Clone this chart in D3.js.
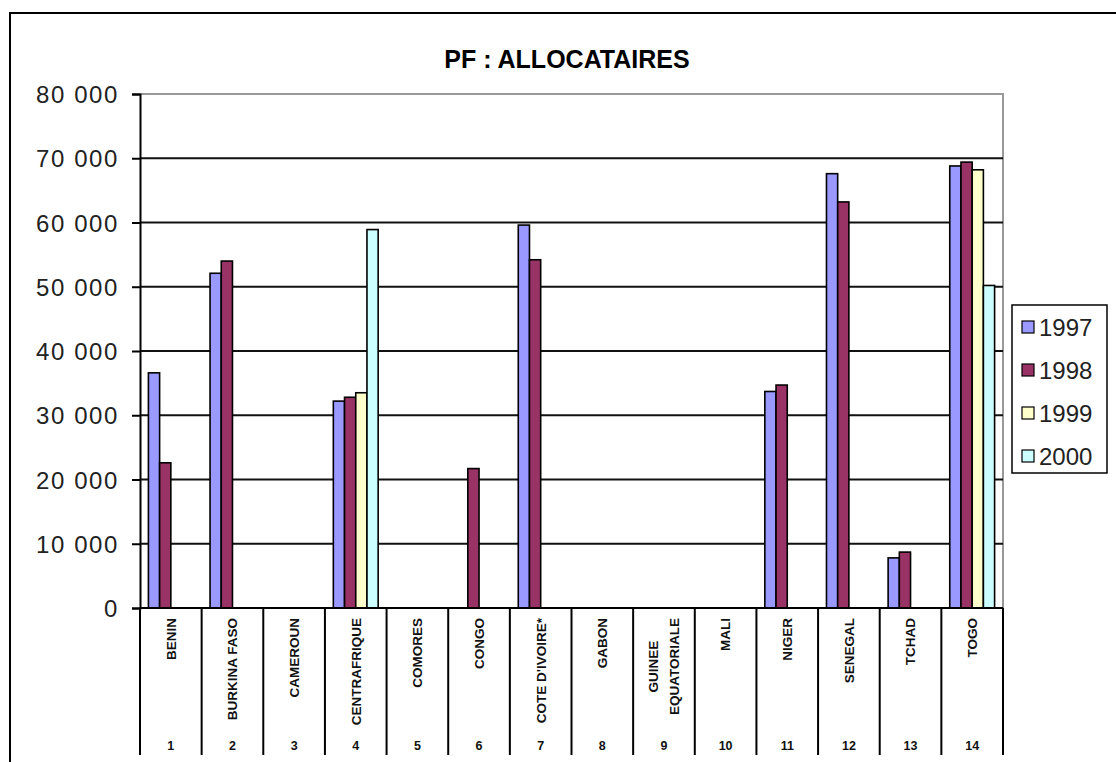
<!DOCTYPE html>
<html>
  <head>
    <meta charset="utf-8" />
    <script src="https://d3js.org/d3.v7.min.js"></script>
    <style>
      body { margin: 0; background: #fff; }
      text { font-family: "Liberation Sans", Arial, sans-serif; }
    </style>
  </head>
  <body>
    <svg id="chart" width="1116" height="762"></svg>
    <script>
      // data
      const countries = ["BENIN", "BURKINA FASO", "CAMEROUN", "CENTRAFRIQUE", "COMORES", "CONGO",
        "COTE D'IVOIRE*", "GABON", "GUINEE\nEQUATORIALE", "MALI", "NIGER", "SENEGAL", "TCHAD", "TOGO"];
      const numbers = ["1", "2", "3", "4", "5", "6", "7", "8", "9", "10", "11", "12", "13", "14"];
      const years = ["1997", "1998", "1999", "2000"];
      const v1997 = [36600, 52100, null, 32200, null, null, 59600, null, null, null, 33700, 67600, 7800, 68800];
      const v1998 = [22600, 54000, null, 32800, null, 21700, 54200, null, null, null, 34700, 63200, 8700, 69400];
      const v1999 = [null, null, null, 33500, null, null, null, null, null, null, null, null, null, 68200];
      const v2000 = [null, null, null, 58900, null, null, null, null, null, null, null, null, null, 50200];
      const colors = ["#9999ff", "#993366", "#ffffcc", "#ccffff"];

      const series = [v1997, v1998, v1999, v2000];

      const svg = d3.select("#chart");

      // outer chart frame (runs off the right and bottom of the picture)
      svg.append("rect")
        .attr("x", 10).attr("y", 13)
        .attr("width", 1300).attr("height", 900)
        .attr("fill", "#fff")
        .attr("stroke", "#000")
        .attr("stroke-width", 2);

      const pLeft = 140, pRight = 1003, pTop = 94, pBottom = 608;

      const x = d3.scaleBand().domain(d3.range(countries.length)).range([pLeft, pRight]);
      // excel style gap width 150%
      const xs = d3.scaleBand().domain(d3.range(years.length))
        .range([0, x.bandwidth()]).paddingInner(0).paddingOuter(0.75);
      const y = d3.scaleLinear().domain([0, 80000]).range([pBottom, pTop]);

      const fr = d3.formatLocale({ decimal: ",", thousands: " ", grouping: [3], currency: ["", ""] });
      const fmt = fr.format(",d");

      // title
      svg.append("text")
        .attr("x", 567).attr("y", 68)
        .attr("text-anchor", "middle")
        .attr("font-size", 25).attr("font-weight", "bold")
        .text("PF : ALLOCATAIRES");

      // plot border (gray)
      svg.append("path")
        .attr("d", `M${pLeft},${pTop}H${pRight}V${pBottom}`)
        .attr("fill", "none").attr("stroke", "#999").attr("stroke-width", 2);

      // gridlines
      svg.append("g")
        .selectAll("line")
        .data(y.ticks(8).filter(d => d > 0 && d < 80000))
        .join("line")
        .attr("x1", pLeft).attr("x2", pRight)
        .attr("y1", d => y(d)).attr("y2", d => y(d))
        .attr("stroke", "#111").attr("stroke-width", 2);

      // y axis
      const yAxis = svg.append("g")
        .attr("transform", `translate(${pLeft},0)`)
        .call(d3.axisLeft(y).ticks(8).tickFormat(fmt).tickSize(8).tickPadding(13));
      yAxis.select(".domain").attr("stroke", "#000").attr("stroke-width", 2);
      yAxis.selectAll(".tick line").attr("stroke", "#000").attr("stroke-width", 2);
      yAxis.selectAll(".tick text")
        .attr("font-size", 24)
        .attr("letter-spacing", 1.6)
        .attr("fill", "#222")
        .attr("font-family", "'Liberation Sans', Arial, sans-serif")
        .attr("dy", "0.36em");

      // bars
      const groups = svg.append("g")
        .selectAll("g")
        .data(series)
        .join("g")
        .attr("fill", (d, i) => colors[i]);

      groups.selectAll("rect")
        .data((d, si) => d.map((v, ci) => ({ v, ci, si })).filter(e => e.v != null))
        .join("rect")
        .attr("x", d => x(d.ci) + xs(d.si))
        .attr("width", xs.bandwidth())
        .attr("y", d => y(d.v))
        .attr("height", d => y(0) - y(d.v))
        .attr("stroke", "#000")
        .attr("stroke-width", 1.6);

      // category axis
      svg.append("line")
        .attr("x1", pLeft).attr("x2", pRight)
        .attr("y1", pBottom).attr("y2", pBottom)
        .attr("stroke", "#000").attr("stroke-width", 2);

      svg.append("g")
        .selectAll("line")
        .data(d3.range(countries.length + 1))
        .join("line")
        .attr("x1", i => pLeft + i * x.step()).attr("x2", i => pLeft + i * x.step())
        .attr("y1", pBottom).attr("y2", 755)
        .attr("stroke", "#000").attr("stroke-width", 2);

      // rotated country names
      const labelTop = 618, lineH = 21;
      const lab = svg.append("g")
        .selectAll("g")
        .data(countries)
        .join("g")
        .attr("transform", (d, i) => `translate(${x(i) + x.bandwidth() / 2},0) rotate(-90)`);

      lab.each(function (d) {
        const g = d3.select(this);
        const lines = d.split("\n");
        const t = g.selectAll("text")
          .data(lines)
          .join("text")
          .attr("text-anchor", "middle")
          .attr("font-size", 13.5)
          .attr("font-weight", "bold")
          .attr("fill", "#111")
          .attr("y", (l, k) => (k - (lines.length - 1) / 2) * lineH)
          .attr("dy", "0.36em")
          .text(l => l);
        const maxLen = d3.max(t.nodes(), n => n.getComputedTextLength());
        t.attr("x", -(labelTop + maxLen / 2));
      });

      // category numbers
      svg.append("g")
        .selectAll("text")
        .data(numbers)
        .join("text")
        .attr("x", (d, i) => x(i) + x.bandwidth() / 2)
        .attr("y", 750)
        .attr("text-anchor", "middle")
        .attr("font-size", 12.5)
        .attr("font-weight", "bold")
        .attr("fill", "#111")
        .text(d => d);

      // legend
      const lg = svg.append("g");
      lg.append("rect")
        .attr("x", 1012).attr("y", 305)
        .attr("width", 95).attr("height", 168)
        .attr("fill", "#fff").attr("stroke", "#000").attr("stroke-width", 1.5);

      const items = lg.selectAll("g.item")
        .data(years)
        .join("g")
        .attr("class", "item")
        .attr("transform", (d, i) => `translate(1022,${327 + i * 43})`);

      items.append("rect")
        .attr("x", 0).attr("y", -6)
        .attr("width", 12).attr("height", 12)
        .attr("fill", (d, i) => colors[i])
        .attr("stroke", "#000").attr("stroke-width", 1.2);

      items.append("text")
        .attr("x", 17).attr("y", 0)
        .attr("dy", "0.36em")
        .attr("font-size", 24)
        .attr("fill", "#222")
        .text(d => d);
    </script>
  </body>
</html>
